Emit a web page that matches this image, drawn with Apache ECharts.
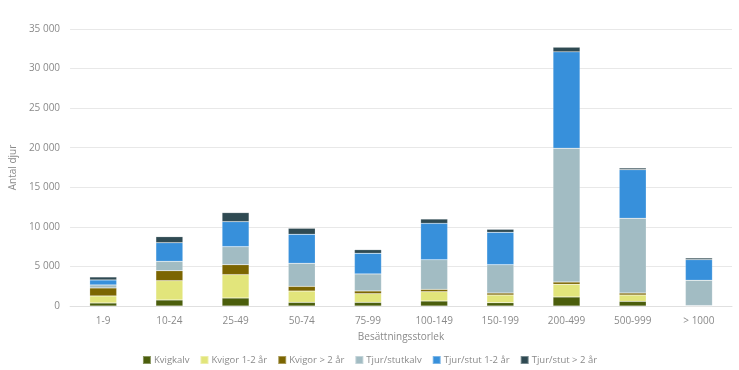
<!DOCTYPE html>
<html>
<head>
<meta charset="utf-8">
<script src="https://cdn.jsdelivr.net/npm/echarts@6/dist/echarts.min.js"></script>
<style>
html,body{margin:0;padding:0;background:#fff;}
#chart{width:739px;height:370px;}
</style>
</head>
<body>
<div id="chart"></div>
<script>
const categories = ['1-9','10-24','25-49','50-74','75-99','100-149','150-199','200-499','500-999','> 1000'];
const kvigkalv      = [380, 760, 1010, 460, 460, 630, 420, 1140, 590, 0];
const kvigor12      = [890, 2440, 2950, 1430, 1100, 1180, 970, 1600, 800, 50];
const kvigorOver2   = [1010, 1260, 1260, 590, 340, 290, 250, 290, 250, 0];
const tjurKalv      = [380, 1180, 2280, 2910, 2150, 3750, 3580, 16900, 9440, 3200];
const tjur12        = [630, 2360, 3160, 3670, 2610, 4590, 4090, 12180, 6150, 2610];
const tjurOver2     = [380, 760, 1140, 760, 460, 550, 380, 590, 210, 210];
const yTicks = [0, 5000, 10000, 15000, 20000, 25000, 30000, 35000];

const seriesDefs = [
  ['Kvigkalv', kvigkalv, '#4b5e0c'],
  ['Kvigor 1-2 år', kvigor12, '#e2e57b'],
  ['Kvigor > 2 år', kvigorOver2, '#7b6501'],
  ['Tjur/stutkalv', tjurKalv, '#a2bcc3'],
  ['Tjur/stut 1-2 år', tjur12, '#3790db'],
  ['Tjur/stut > 2 år', tjurOver2, '#2f4a52']
];

const fmt = v => String(v).replace(/\B(?=(\d{3})+(?!\d))/g, ' ');
const font = '"Open Sans", sans-serif';
const txt = '#8a8a8a';

const chart = echarts.init(document.getElementById('chart'), null, {renderer: 'canvas'});
chart.setOption({
  animation: false,
  textStyle: {fontFamily: font},
  grid: {left: 62, right: 7, top: 29, bottom: 64},
  legend: {
    top: 350,
    left: 'center',
    itemWidth: 8,
    itemHeight: 8,
    itemGap: 10,
    icon: 'rect',
    textStyle: {color: txt, fontSize: 9.5, fontFamily: font, padding: [0, 0, 0, -2]},
    data: seriesDefs.map(s => s[0])
  },
  xAxis: {
    type: 'category',
    data: categories,
    name: 'Besättningsstorlek',
    nameLocation: 'middle',
    nameGap: 26,
    nameTextStyle: {color: txt, fontSize: 10, fontFamily: font},
    axisLine: {lineStyle: {color: '#e0e0e0'}},
    axisTick: {show: false},
    axisLabel: {color: txt, fontSize: 10, margin: 10, fontFamily: font}
  },
  yAxis: {
    type: 'value',
    min: yTicks[0],
    max: yTicks[yTicks.length - 1],
    interval: yTicks[1] - yTicks[0],
    name: 'Antal djur',
    nameLocation: 'middle',
    nameGap: 38,
    nameTextStyle: {color: txt, fontSize: 10, fontFamily: font},
    axisLine: {show: false},
    axisTick: {show: false},
    splitLine: {lineStyle: {color: '#e8e8e8'}},
    axisLabel: {color: txt, fontSize: 10, margin: 10, fontFamily: font, formatter: fmt}
  },
  series: seriesDefs.map(s => ({
    name: s[0],
    type: 'bar',
    stack: 'total',
    data: s[1],
    barWidth: 27,
    itemStyle: {color: s[2], borderColor: 'rgba(255,255,255,0.35)', borderWidth: 0.5}
  }))
});
</script>
</body>
</html>
